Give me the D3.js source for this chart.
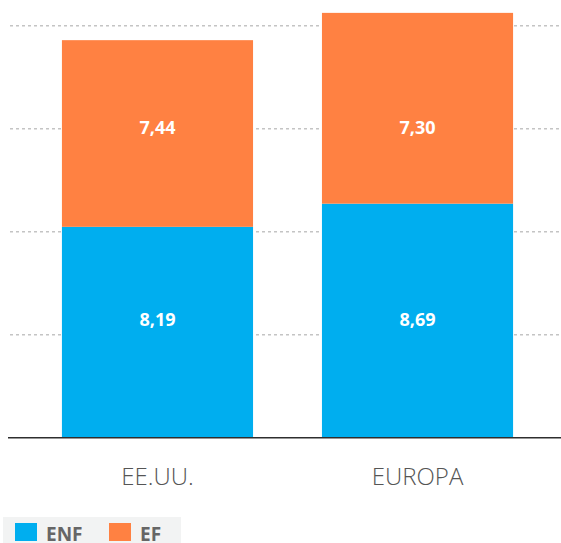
<!DOCTYPE html>
<html>
<head>
<meta charset="utf-8">
<script src="https://cdn.jsdelivr.net/npm/d3@7"></script>
<style>
  html, body { margin: 0; padding: 0; background: #fff; }
  svg { display: block; }
</style>
</head>
<body>
<svg id="chart" width="561" height="543"></svg>
<script>
// ---- data ----
const categories = ["EE.UU.", "EUROPA"];
const seriesNames = ["ENF", "EF"];
// bar heights as drawn in the picture (axis units, gridlines every 4)
const enfBars = [8.19, 9.09];
const efBars  = [7.25, 7.41];
// printed value labels
const enfLabels = [8.19, 8.69];
const efLabels  = [7.44, 7.30];
const gridTicks = [4, 8, 12, 16];
const colors = ["#00aeef", "#ff8142"];

// ---- layout ----
const svg = d3.select("#chart");
const W = 561;
const baseY = 437.7;
const yMax = 17;

const y = d3.scaleLinear().domain([0, yMax]).range([baseY, 0]);
const x = d3.scaleBand().domain(categories).range([12, 563])
  .paddingInner(0.265).paddingOuter(0.192);
const color = d3.scaleOrdinal().domain(seriesNames).range(colors);
const fmt = d3.formatLocale({decimal: ",", thousands: ".", grouping: [3], currency: ["", ""]}).format(".2f");

// gridlines
svg.append("g").selectAll("line").data(gridTicks).join("line")
  .attr("x1", 10).attr("x2", W)
  .attr("y1", d => y(d)).attr("y2", d => y(d))
  .attr("stroke", "#c4c4c4").attr("stroke-width", 1.5)
  .attr("stroke-dasharray", "3,3");

// stacked data
const rows = categories.map((c, i) => ({cat: c, ENF: enfBars[i], EF: efBars[i]}));
const stack = d3.stack().keys(seriesNames)(rows);

svg.append("g").selectAll("g").data(stack).join("g")
  .attr("fill", d => color(d.key))
  .selectAll("rect").data(d => d).join("rect")
  .attr("x", d => x(d.data.cat))
  .attr("width", x.bandwidth())
  .attr("y", d => y(d[1]))
  .attr("height", d => y(d[0]) - y(d[1]));

// value labels (fixed rows as in the reference)
const labelRows = [
  {vals: enfLabels, yPos: y(4.6)},
  {vals: efLabels, yPos: y(12.05)}
];
labelRows.forEach(r => {
  svg.append("g").selectAll("text").data(categories).join("text")
    .attr("x", c => x(c) + x.bandwidth() / 2)
    .attr("y", r.yPos)
    .attr("text-anchor", "middle")
    .attr("dominant-baseline", "central")
    .attr("fill", "#fff")
    .attr("font-family", "'Open Sans', sans-serif")
    .attr("font-weight", 700)
    .attr("font-size", 18)
    .text((c, i) => fmt(r.vals[i]));
});

// baseline axis
const xAxis = d3.axisBottom(x).tickSize(0).tickPadding(30);
const ax = svg.append("g").attr("transform", `translate(0,${baseY})`).call(xAxis);
ax.select(".domain").remove();
ax.append("line").attr("x1", 8).attr("x2", W).attr("y1", 0).attr("y2", 0)
  .attr("stroke", "#2e2e2e").attr("stroke-width", 1.6);
ax.selectAll(".tick text")
  .attr("font-family", "'Open Sans', sans-serif")
  .attr("font-weight", 300)
  .attr("font-size", 24)
  .attr("fill", "#555");

// legend
const lg = svg.append("g");
lg.append("rect").attr("x", 3).attr("y", 517).attr("width", 178).attr("height", 26).attr("fill", "#f2f3f3");
const items = lg.selectAll("g").data(seriesNames).join("g")
  .attr("transform", (d, i) => `translate(${[15, 109][i]},0)`);
items.append("rect").attr("x", 0).attr("y", 523).attr("width", 22).attr("height", 18)
  .attr("fill", d => color(d));
items.append("text").attr("x", 31).attr("y", 541)
  .attr("font-family", "'Open Sans', sans-serif")
  .attr("font-weight", 700)
  .attr("font-size", 19)
  .attr("fill", "#666")
  .text(d => d);
</script>
</body>
</html>
